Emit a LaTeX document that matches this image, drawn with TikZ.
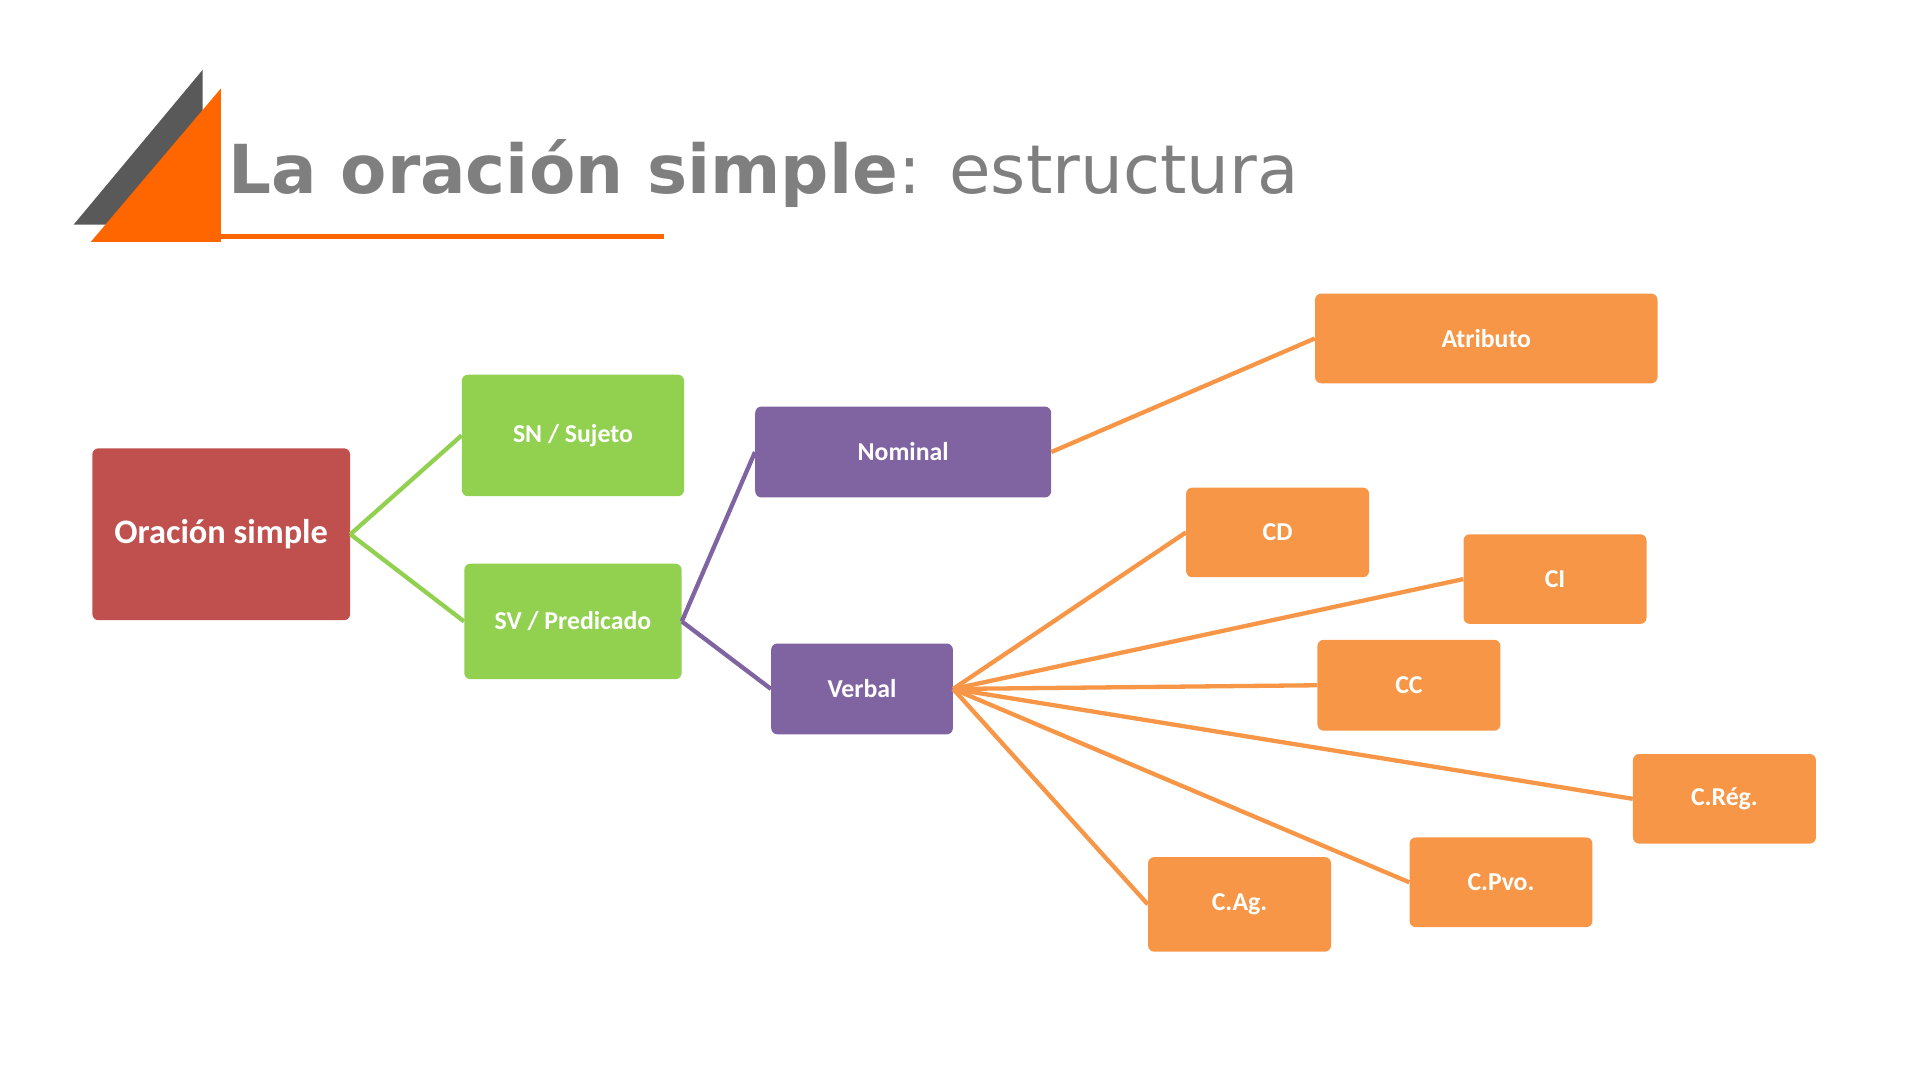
\documentclass[tikz,border=0pt]{standalone}
\usepackage{fontspec}
\setmainfont{Carlito}
\newfontfamily\titlefont{DejaVu Sans}
\definecolor{cred}{HTML}{C0504D}
\definecolor{cgreen}{HTML}{92D050}
\definecolor{cpurp}{HTML}{8064A2}
\definecolor{corange}{HTML}{F79646}
\definecolor{cgray}{HTML}{7F7F7F}
\definecolor{cdark}{HTML}{595959}
\definecolor{ctri}{HTML}{FF6600}
\begin{document}
\begin{tikzpicture}[x=1pt,y=-1pt,
  box/.style={rounded corners=5pt,inner sep=0pt,text=white,font=\bfseries\fontsize{21}{25}\selectfont},
  bx/.style n args={4}{box,minimum width=#3-#1,minimum height=#4-#2,anchor=north west,at={(#1,#2)}},
  gl/.style={cgreen,line width=3.5pt},
  pl/.style={cpurp,line width=3.5pt},
  ol/.style={corange,line width=3.5pt}]
\useasboundingbox (0,0) rectangle (1564,880);
\fill[cdark] (165,57) -- (60,183) -- (165,183) -- cycle;
\fill[ctri] (180,72) -- (74,197) -- (180,197) -- cycle;
\draw[ctri,line width=4pt] (180,193) -- (541,193);
\node[anchor=base west,text=cgray,inner sep=0pt,font=\titlefont\fontsize{55}{60}\selectfont] (title) at (186,158) {\textbf{La oración simple}: estructura};
\node[bx={75}{365}{285}{505},fill=cred,font=\bfseries\fontsize{28}{32}\selectfont] (os) {Oración simple};
\node[bx={376}{305}{557}{404},fill=cgreen] (sn) {SN / Sujeto};
\node[bx={378}{459}{555}{553},fill=cgreen] (sv) {SV / Predicado};
\node[bx={615}{331}{856}{405},fill=cpurp] (nom) {Nominal};
\node[bx={628}{524}{776}{598},fill=cpurp] (ver) {Verbal};
\node[bx={1071}{239}{1350}{312},fill=corange] (atr) {Atributo};
\node[bx={966}{397}{1115}{470},fill=corange] (cd) {CD};
\node[bx={1192}{435}{1341}{508},fill=corange] (ci) {CI};
\node[bx={1073}{521}{1222}{595},fill=corange] (cc) {CC};
\node[bx={1330}{614}{1479}{687},fill=corange] (crg) {C.Rég.};
\node[bx={1148}{682}{1297}{755},fill=corange] (cpv) {C.Pvo.};
\node[bx={935}{698}{1084}{775},fill=corange] (cag) {C.Ag.};
\draw[gl] (os.east) -- (sn.west);
\draw[gl] (os.east) -- (sv.west);
\draw[pl] (sv.east) -- (nom.west);
\draw[pl] (sv.east) -- (ver.west);
\draw[ol] (nom.east) -- (atr.west);
\foreach \t in {cd,ci,cc,crg,cpv,cag} \draw[ol] (ver.east) -- (\t.west);
\end{tikzpicture}
\end{document}
